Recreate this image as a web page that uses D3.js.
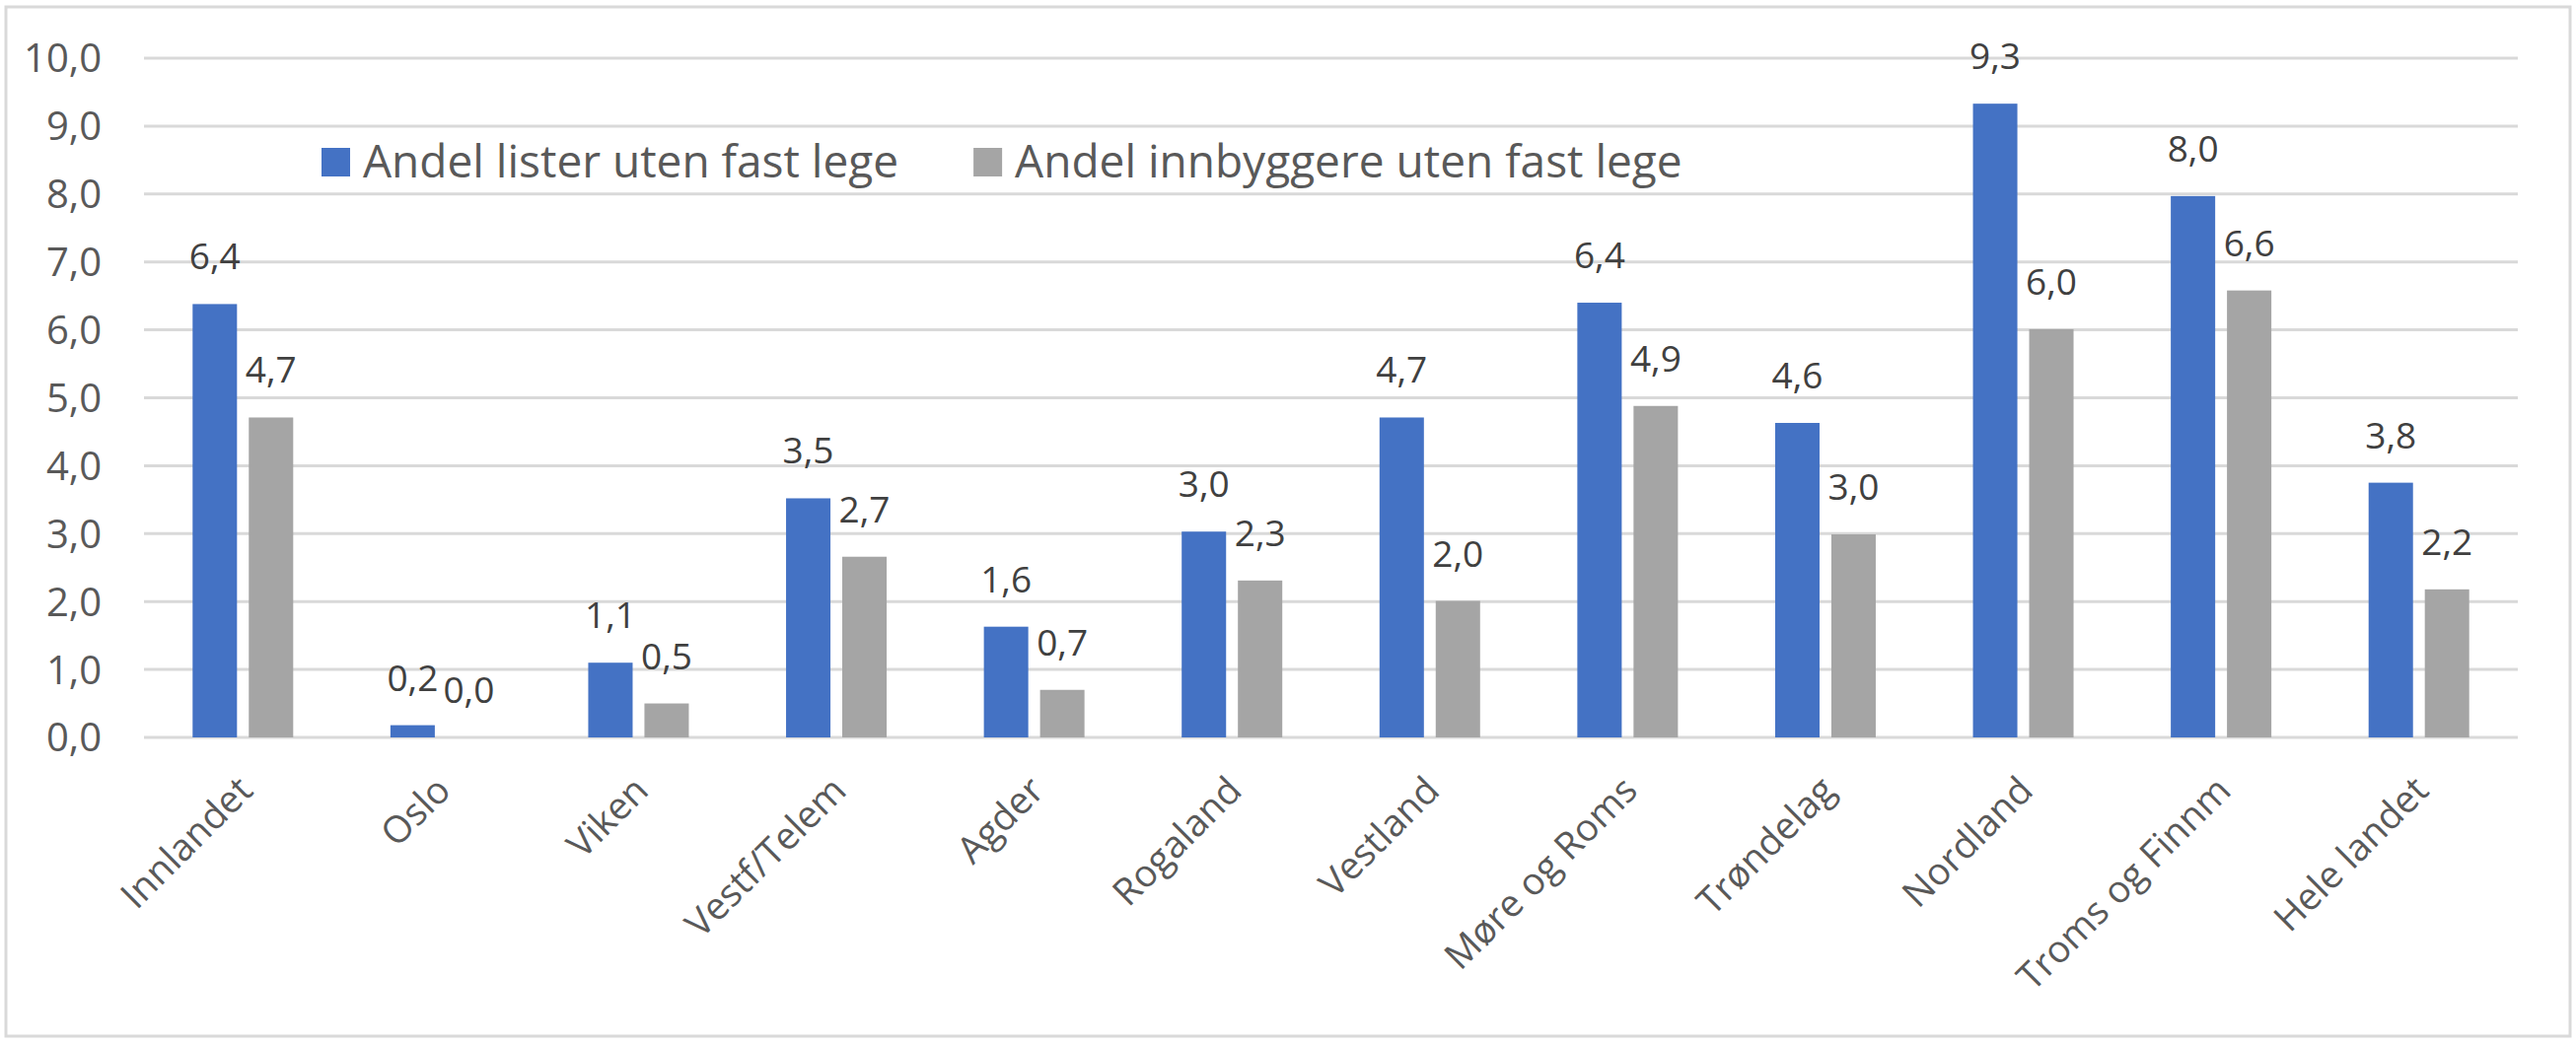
<!DOCTYPE html>
<html>
<head>
<meta charset="utf-8">
<script src="https://cdn.jsdelivr.net/npm/d3@7"></script>
<style>
  body { margin: 0; background: #fff; }
  text { font-family: "Open Sans", sans-serif; }
</style>
</head>
<body>
<svg id="chart" width="2612" height="1060"></svg>
<script>
'use strict';

// categories (regions)
var categories = ['Innlandet','Oslo','Viken','Vestf/Telem','Agder','Rogaland','Vestland','Møre og Roms','Trøndelag','Nordland','Troms og Finnm','Hele landet'];

// series names
var seriesNames = ['Andel lister uten fast lege','Andel innbyggere uten fast lege'];

// series values (percent)
var listerValues = [6.38, 0.18, 1.10, 3.52, 1.63, 3.03, 4.71, 6.40, 4.63, 9.33, 7.97, 3.75];
var innbyggereValues = [4.71, 0.00, 0.50, 2.66, 0.70, 2.31, 2.01, 4.88, 2.99, 6.01, 6.58, 2.18];

// y tick values
var yTicks = [0,1,2,3,4,5,6,7,8,9,10];

var colors = ['#4472C4','#A5A5A5'];

var svg = d3.select('#chart');

//Outer frame
svg.append('rect')
	.attr('x',6).attr('y',7)
	.attr('width',2600).attr('height',1044)
	.attr('fill','#fff')
	.attr('stroke','#d9d9d9')
	.attr('stroke-width',3);

var nb = d3.formatLocale({decimal: ',', thousands: ' ', grouping: [3], currency: ['', '']});
var fmt = nb.format('.1f');

var x0 = d3.scaleBand().domain(categories).range([146, 2553]).paddingInner(0).paddingOuter(0);
var x1 = d3.scaleBand().domain(seriesNames).range([-51, 51]).paddingInner(0.21);
var y = d3.scaleLinear().domain([0, 10]).range([748, 59]);

//Gridlines
svg.append('g').selectAll('line')
	.data(yTicks)
	.enter().append('line')
		.attr('x1',146).attr('x2',2553)
		.attr('y1',function(d){ return y(d); })
		.attr('y2',function(d){ return y(d); })
		.attr('stroke','#d9d9d9')
		.attr('stroke-width',3);

//Y axis labels
svg.append('g').selectAll('text')
	.data(yTicks)
	.enter().append('text')
		.attr('x',103)
		.attr('y',function(d){ return y(d); })
		.attr('dy','0.36em')
		.attr('text-anchor','end')
		.attr('font-size',40)
		.attr('fill','#595959')
		.text(function(d){ return fmt(d); });

//Bars and labels per series
var seriesData = [listerValues, innbyggereValues];
seriesData.forEach(function(vals, s){
	var g = svg.append('g');
	g.selectAll('rect')
		.data(vals)
		.enter().append('rect')
			.attr('x',function(d,i){ return x0(categories[i]) + x0.bandwidth()/2 + x1(seriesNames[s]); })
			.attr('y',function(d){ return y(d); })
			.attr('width',x1.bandwidth())
			.attr('height',function(d){ return y(0) - y(d); })
			.attr('fill',colors[s]);
	g.selectAll('text')
		.data(vals)
		.enter().append('text')
			.attr('x',function(d,i){ return x0(categories[i]) + x0.bandwidth()/2 + x1(seriesNames[s]) + x1.bandwidth()/2; })
			.attr('y',function(d){ return y(d) - 35; })
			.attr('text-anchor','middle')
			.attr('font-size',37)
			.attr('fill','#404040')
			.text(function(d){ return fmt(d); });
});

//Category labels, rotated
svg.append('g').selectAll('text')
	.data(categories)
	.enter().append('text')
		.attr('transform',function(d){
			var cx = x0(d) + x0.bandwidth()/2 + 12;
			return 'translate(' + cx + ',' + 804 + ') rotate(-45)';
		})
		.attr('text-anchor','end')
		.attr('font-size',38)
		.attr('fill','#595959')
		.text(function(d){ return d; });

//Legend
var legend = svg.append('g');
var lx = 326;
seriesNames.forEach(function(name, s){
	legend.append('rect')
		.attr('x',lx).attr('y',150)
		.attr('width',29).attr('height',29)
		.attr('fill',colors[s]);
	var t = legend.append('text')
		.attr('x',lx + 42).attr('y',180)
		.attr('font-size',46)
		.attr('fill','#595959')
		.text(name);
	lx = lx + 42 + t.node().getComputedTextLength() + 76;
});
</script>
</body>
</html>
